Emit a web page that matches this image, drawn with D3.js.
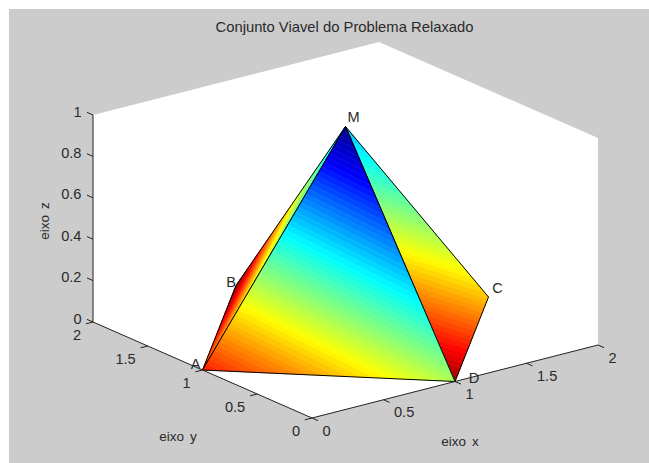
<!DOCTYPE html>
<html><head><meta charset="utf-8"><style>html,body{margin:0;padding:0;background:#fff}svg{display:block}text{font-family:"Liberation Sans",Arial,sans-serif;fill:#2a2a2a}</style>
<script src="https://cdn.jsdelivr.net/npm/d3@7"></script></head><body><script>
const titleText="Conjunto Viavel do Problema Relaxado";
const xTicks=[0,0.5,1,1.5,2], yTicks=[0,0.5,1,1.5,2], zTicks=[0,0.2,0.4,0.6,0.8,1];
const vertexNames=["A","B","C","D","M"];
const vertexX=[0,1,2,1,1], vertexY=[1,2,1,0,1], vertexZ=[0,0,0,0,1];
const faceVertices=[["M","A","B"],["M","D","C"],["M","A","D"]];
const faceColorValues=[[0.3,0.78,1.0],[0.3,0.97,0.68],[0.0,0.85,0.54]];
const W=649,H=463,ox=312,oy=418,fs=14.6;
const pxX=d3.scaleLinear([0,2],[0,286]),pyX=d3.scaleLinear([0,2],[0,-73]);
const pxY=d3.scaleLinear([0,2],[0,-219]),pyY=d3.scaleLinear([0,2],[0,-96]);
const pyZ=d3.scaleLinear([0,1],[0,-207]);
const P=(x,y,z)=>[ox+pxX(x)+pxY(y),oy+pyX(x)+pyY(y)+pyZ(z)];
const jet=d3.scaleLinear().domain([0,.125,.375,.625,.875,1]).range(["#00008f","#0000ff","#00ffff","#ffff00","#ff0000","#800000"]);
const levels=d3.range(64);
const svg=d3.select("body").append("svg").attr("width",W).attr("height",H);
svg.append("rect").attr("x",9).attr("y",9).attr("width",W-9).attr("height",H-9).attr("fill","#cccccc");
const hull=[P(0,0,0),P(2,0,0),P(2,0,1),P(2,2,1),P(0,2,1),P(0,2,0)];
svg.append("polygon").attr("points",hull.join(" ")).attr("fill","#fff");
function clip(poly,t,keepAbove){
  const out=[];
  poly.forEach((a,i)=>{const b=poly[(i+1)%poly.length];
    const ia=keepAbove?a.v>=t:a.v<=t, ib=keepAbove?b.v>=t:b.v<=t;
    if(ia)out.push(a);
    if(ia!==ib){const k=(t-a.v)/(b.v-a.v);out.push({p:[a.p[0]+k*(b.p[0]-a.p[0]),a.p[1]+k*(b.p[1]-a.p[1])],v:t});}
  });
  return out;
}
const vp=n=>{const i=vertexNames.indexOf(n);return P(vertexX[i],vertexY[i],vertexZ[i]);};
faceVertices.forEach((f,fi)=>{
  const poly=f.map((n,i)=>({p:vp(n),v:faceColorValues[fi][i]}));
  const g=svg.append("g");
  levels.forEach(l=>{
    let c=clip(clip(poly,l/64,true),(l+1)/64,false);
    if(c.length<3)return;
    const col=jet((l+.5)/64);
    g.append("polygon").attr("points",c.map(d=>d.p).join(" ")).attr("fill",col).attr("stroke",col).attr("stroke-width",.6);
  });
  g.append("polygon").attr("points",poly.map(d=>d.p).join(" ")).attr("fill","none").attr("stroke","#000").attr("stroke-width",1).attr("stroke-linejoin","round");
});
const line=(a,b)=>svg.append("line").attr("x1",a[0]).attr("y1",a[1]).attr("x2",b[0]).attr("y2",b[1]).attr("stroke","#222").attr("stroke-width",1);
line(P(0,0,0),P(2,0,0));line(P(0,0,0),P(0,2,0));line(P(0,2,0),P(0,2,1));
const txt=(x,y,s,anchor)=>svg.append("text").attr("x",x).attr("y",y).attr("text-anchor",anchor||"middle").attr("dominant-baseline","central").attr("font-size",fs).text(s);
xTicks.forEach(v=>{const a=P(v,0,0),b=P(v,-0.055,0);line(a,b);txt(a[0]+10.5,a[1]+12.5,String(v),"start");});
yTicks.forEach(v=>{const a=P(0,v,0),b=P(-0.05,v,0);line(a,b);txt(a[0]-12,a[1]+12.5,String(v),"end");});
zTicks.forEach(v=>{const a=P(0,2,v),b=P(0,2.055,v);line(a,b);txt(81.5,a[1]-3.5,String(v),"end");});
txt(344.5,27,titleText).attr("font-size",14.8);
txt(178,436,"eixo y").attr("font-size",13.5).attr("word-spacing",2);
txt(460,441,"eixo x").attr("font-size",13.5).attr("word-spacing",2);
svg.append("text").attr("transform","translate(44,221) rotate(-90)").attr("text-anchor","middle").attr("dominant-baseline","central").attr("font-size",13.5).attr("word-spacing",2).text("eixo z");
const labelOffsets={A:[-7,-6],B:[-5,-4],C:[9,-9],D:[19,-4],M:[8,-10]};
vertexNames.forEach(n=>{const p=vp(n),o=labelOffsets[n];txt(p[0]+o[0],p[1]+o[1],n);});
</script></body></html>
